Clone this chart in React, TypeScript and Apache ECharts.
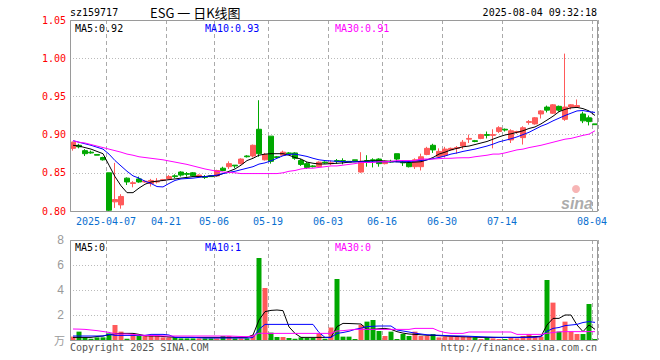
import React, { useEffect, useRef } from "react";
import * as echarts from "echarts";

const dates = [
  "2025-03-27", "2025-03-28", "2025-03-31",
  "2025-04-01", "2025-04-02", "2025-04-03", "2025-04-07", "2025-04-08", "2025-04-09", "2025-04-10", "2025-04-11",
  "2025-04-14", "2025-04-15", "2025-04-16", "2025-04-17", "2025-04-18", "2025-04-21", "2025-04-22", "2025-04-23",
  "2025-04-24", "2025-04-25", "2025-04-28", "2025-04-29", "2025-04-30",
  "2025-05-06", "2025-05-07", "2025-05-08", "2025-05-09", "2025-05-12", "2025-05-13", "2025-05-14", "2025-05-15",
  "2025-05-16", "2025-05-19", "2025-05-20", "2025-05-21", "2025-05-22", "2025-05-23", "2025-05-26", "2025-05-27",
  "2025-05-28", "2025-05-29", "2025-05-30",
  "2025-06-03", "2025-06-04", "2025-06-05", "2025-06-06", "2025-06-09", "2025-06-10", "2025-06-11", "2025-06-12",
  "2025-06-13", "2025-06-16", "2025-06-17", "2025-06-18", "2025-06-19", "2025-06-20", "2025-06-23", "2025-06-24",
  "2025-06-25", "2025-06-26", "2025-06-27", "2025-06-30",
  "2025-07-01", "2025-07-02", "2025-07-03", "2025-07-04", "2025-07-07", "2025-07-08", "2025-07-09", "2025-07-10",
  "2025-07-11", "2025-07-14", "2025-07-15", "2025-07-16", "2025-07-17", "2025-07-18", "2025-07-21", "2025-07-22",
  "2025-07-23", "2025-07-24", "2025-07-25", "2025-07-28", "2025-07-29", "2025-07-30", "2025-07-31",
  "2025-08-01", "2025-08-04",
];

const labelDates = [
  "2025-04-07", "2025-04-21", "2025-05-06", "2025-05-19", "2025-06-03",
  "2025-06-16", "2025-06-30", "2025-07-14", "2025-08-04",
];

// [open, close, low, high]
const ohlc = [
  [0.882, 0.890, 0.879, 0.891], [0.886, 0.884, 0.882, 0.888], [0.879, 0.875, 0.872, 0.881], [0.877, 0.876, 0.875, 0.879],
  [0.874, 0.873, 0.873, 0.874], [0.870, 0.867, 0.866, 0.871], [0.850, 0.801, 0.800, 0.850], [0.812, 0.815, 0.804, 0.863],
  [0.808, 0.819, 0.803, 0.822], [0.843, 0.838, 0.834, 0.844], [0.836, 0.837, 0.831, 0.839], [0.842, 0.838, 0.837, 0.845],
  [0.838, 0.839, 0.837, 0.840], [0.836, 0.840, 0.832, 0.842], [0.838, 0.839, 0.836, 0.843], [0.840, 0.841, 0.839, 0.842],
  [0.842, 0.845, 0.841, 0.847], [0.846, 0.845, 0.843, 0.848], [0.851, 0.847, 0.845, 0.852], [0.849, 0.848, 0.845, 0.851],
  [0.850, 0.846, 0.845, 0.851], [0.845, 0.847, 0.844, 0.848], [0.845, 0.844, 0.842, 0.847], [0.846, 0.845, 0.845, 0.846],
  [0.846, 0.853, 0.845, 0.854], [0.856, 0.853, 0.852, 0.858], [0.858, 0.862, 0.855, 0.865], [0.860, 0.859, 0.856, 0.860],
  [0.862, 0.868, 0.861, 0.869], [0.872, 0.871, 0.870, 0.873], [0.872, 0.886, 0.870, 0.887], [0.907, 0.875, 0.871, 0.945],
  [0.867, 0.874, 0.866, 0.876], [0.898, 0.865, 0.862, 0.898], [0.871, 0.870, 0.869, 0.872], [0.873, 0.877, 0.872, 0.879],
  [0.876, 0.875, 0.874, 0.877], [0.876, 0.869, 0.867, 0.877], [0.866, 0.861, 0.859, 0.868], [0.862, 0.857, 0.855, 0.864],
  [0.859, 0.858, 0.857, 0.860], [0.858, 0.864, 0.857, 0.865], [0.864, 0.863, 0.862, 0.865], [0.862, 0.863, 0.860, 0.866],
  [0.866, 0.865, 0.862, 0.868], [0.866, 0.865, 0.861, 0.869], [0.865, 0.864, 0.864, 0.865], [0.867, 0.866, 0.866, 0.867],
  [0.851, 0.865, 0.850, 0.877], [0.866, 0.865, 0.858, 0.873], [0.867, 0.866, 0.857, 0.869], [0.868, 0.862, 0.858, 0.869],
  [0.862, 0.865, 0.861, 0.866], [0.865, 0.864, 0.863, 0.867], [0.875, 0.868, 0.864, 0.875], [0.864, 0.863, 0.859, 0.866],
  [0.863, 0.858, 0.857, 0.864], [0.858, 0.867, 0.855, 0.869], [0.858, 0.871, 0.853, 0.875], [0.874, 0.882, 0.873, 0.884],
  [0.886, 0.880, 0.876, 0.888], [0.871, 0.878, 0.870, 0.882], [0.873, 0.881, 0.870, 0.884], [0.880, 0.882, 0.879, 0.883],
  [0.882, 0.883, 0.875, 0.885], [0.885, 0.890, 0.881, 0.893], [0.894, 0.895, 0.889, 0.900], [0.892, 0.891, 0.890, 0.893],
  [0.895, 0.900, 0.894, 0.901], [0.900, 0.899, 0.895, 0.904], [0.899, 0.900, 0.882, 0.907], [0.904, 0.909, 0.902, 0.911],
  [0.907, 0.906, 0.904, 0.908], [0.893, 0.905, 0.889, 0.907], [0.903, 0.904, 0.901, 0.905], [0.896, 0.909, 0.887, 0.911],
  [0.916, 0.917, 0.913, 0.919], [0.914, 0.922, 0.913, 0.923], [0.927, 0.931, 0.921, 0.932], [0.936, 0.932, 0.929, 0.938],
  [0.928, 0.939, 0.927, 0.940], [0.937, 0.932, 0.930, 0.938], [0.920, 0.936, 0.918, 1.006], [0.936, 0.939, 0.933, 0.940],
  [0.936, 0.938, 0.935, 0.946], [0.927, 0.918, 0.915, 0.930], [0.922, 0.917, 0.912, 0.925], [0.914, 0.913, 0.913, 0.914],
];

const ma5 = [
  0.886, 0.885, 0.883, 0.881, 0.878, 0.875, 0.860, 0.845, 0.833, 0.824,
  0.824, 0.830, 0.835, 0.838, 0.839, 0.840, 0.841, 0.842, 0.843, 0.844,
  0.845, 0.845, 0.845, 0.846, 0.846, 0.849, 0.852, 0.855, 0.860, 0.866,
  0.869, 0.873, 0.8745, 0.875, 0.875, 0.875, 0.873, 0.870, 0.868, 0.864,
  0.8625, 0.8615, 0.8615, 0.862, 0.8625, 0.863, 0.864, 0.8644, 0.865, 0.8655,
  0.8657, 0.8657, 0.8655, 0.865, 0.8644, 0.864, 0.8636, 0.864, 0.8645, 0.867,
  0.870, 0.8745, 0.877, 0.880, 0.882, 0.884, 0.885, 0.887, 0.889, 0.891,
  0.894, 0.897, 0.8995, 0.901, 0.903, 0.905, 0.908, 0.910, 0.914, 0.919,
  0.924, 0.930, 0.933, 0.935, 0.9356, 0.934, 0.931, 0.925,
];

const ma10 = [
  0.892, 0.890, 0.888, 0.886, 0.8835, 0.881, 0.8745, 0.866, 0.859, 0.852,
  0.846, 0.843, 0.839, 0.836, 0.832, 0.8315, 0.836, 0.840, 0.842, 0.8425,
  0.843, 0.844, 0.845, 0.846, 0.847, 0.849, 0.8505, 0.852, 0.854, 0.856,
  0.858, 0.8614, 0.863, 0.8657, 0.869, 0.8723, 0.874, 0.8745, 0.873, 0.8714,
  0.869, 0.867, 0.866, 0.8655, 0.865, 0.8647, 0.8644, 0.8644, 0.8644, 0.8644,
  0.8644, 0.8644, 0.8644, 0.8644, 0.8644, 0.8644, 0.8648, 0.8655, 0.866, 0.867,
  0.8685, 0.870, 0.872, 0.8745, 0.876, 0.878, 0.8795, 0.881, 0.883, 0.885,
  0.8875, 0.8905, 0.8925, 0.8945, 0.897, 0.900, 0.903, 0.907, 0.911, 0.914,
  0.918, 0.9215, 0.925, 0.928, 0.931, 0.9315, 0.930, 0.929,
];

const ma30 = [
  0.892, 0.890, 0.889, 0.887, 0.885, 0.883, 0.881, 0.879, 0.877, 0.8745,
  0.873, 0.871, 0.870, 0.869, 0.868, 0.867, 0.8655, 0.864, 0.8625, 0.861,
  0.859, 0.857, 0.855, 0.8535, 0.852, 0.851, 0.8505, 0.850, 0.849, 0.849,
  0.849, 0.849, 0.849, 0.849, 0.849, 0.850, 0.852, 0.853, 0.855, 0.856,
  0.856, 0.857, 0.858, 0.859, 0.859, 0.860, 0.861, 0.862, 0.8635, 0.8635,
  0.8635, 0.8645, 0.8645, 0.865, 0.866, 0.866, 0.866, 0.866, 0.868, 0.868,
  0.868, 0.8685, 0.869, 0.869, 0.8695, 0.8697, 0.8697, 0.871, 0.872, 0.873,
  0.8745, 0.8745, 0.876, 0.878, 0.880, 0.881, 0.883, 0.8845, 0.886, 0.888,
  0.890, 0.892, 0.894, 0.895, 0.897, 0.899, 0.9006, 0.905,
];

const volume = [
  0.27, 0.67, 0.21, 0.10, 0.21, 0.21, 0.53, 1.20, 0.67, 0.10,
  0.45, 0.32, 0.32, 0.32, 0.32, 0.21, 0.21, 0.21, 0.13, 0.13,
  0.13, 0.13, 0.13, 0.13, 0.13, 0.32, 0.32, 0.13, 0.13, 0.13,
  0.40, 6.56, 4.16, 0.59, 0.24, 0.24, 0.16, 0.10, 0.21, 0.16,
  0.16, 0.53, 0.10, 1.00, 4.88, 0.27, 0.27, 0.08, 1.20, 1.47,
  1.60, 0.72, 0.32, 0.67, 0.08, 0.48, 0.32, 0.67, 0.32, 0.32,
  0.48, 0.21, 0.27, 0.27, 0.27, 0.27, 0.27, 0.21, 0.08, 0.21,
  0.13, 0.08, 0.08, 0.21, 0.13, 0.32, 0.48, 0.27, 0.27, 4.80,
  2.99, 0.67, 1.47, 0.67, 0.48, 0.48, 2.88, 0.08,
];

const vma5 = [
  0.21, 0.21, 0.21, 0.21, 0.28, 0.32, 0.42, 0.50, 0.53, 0.53,
  0.53, 0.45, 0.34, 0.32, 0.32, 0.28, 0.25, 0.22, 0.21, 0.21,
  0.21, 0.21, 0.21, 0.21, 0.21, 0.21, 0.21, 0.21, 0.21, 0.21,
  0.40, 1.60, 2.27, 2.37, 2.40, 2.35, 1.05, 0.53, 0.21, 0.21,
  0.21, 0.21, 0.21, 0.21, 1.07, 1.33, 1.32, 1.30, 1.28, 0.85,
  0.85, 0.90, 0.93, 0.85, 0.67, 0.55, 0.48, 0.45, 0.42, 0.38,
  0.37, 0.35, 0.32, 0.30, 0.28, 0.26, 0.25, 0.23, 0.21, 0.21,
  0.21, 0.21, 0.21, 0.21, 0.21, 0.22, 0.25, 0.27, 0.30, 1.20,
  1.73, 1.73, 2.00, 2.00, 1.20, 0.67, 1.20, 0.85,
];

const vma10 = [
  0.32, 0.32, 0.32, 0.32, 0.32, 0.32, 0.45, 0.37, 0.37, 0.37,
  0.37, 0.37, 0.37, 0.45, 0.45, 0.45, 0.40, 0.21, 0.21, 0.21,
  0.21, 0.18, 0.16, 0.16, 0.16, 0.16, 0.16, 0.16, 0.16, 0.16,
  0.20, 0.85, 1.25, 1.25, 1.25, 1.25, 1.25, 1.25, 1.25, 1.25,
  1.25, 0.60, 0.21, 0.21, 0.53, 0.60, 0.70, 0.85, 0.95, 1.07,
  1.10, 1.12, 1.12, 1.12, 0.80, 0.72, 0.64, 0.55, 0.48, 0.42,
  0.40, 0.38, 0.36, 0.34, 0.33, 0.32, 0.30, 0.28, 0.26, 0.24,
  0.22, 0.21, 0.21, 0.21, 0.21, 0.21, 0.21, 0.22, 0.27, 0.70,
  0.93, 1.00, 1.15, 1.20, 1.25, 1.40, 1.47, 1.41,
];

const vma30 = [
  0.88, 0.87, 0.85, 0.80, 0.75, 0.68, 0.61, 0.50, 0.48, 0.48,
  0.45, 0.40, 0.37, 0.37, 0.35, 0.33, 0.32, 0.32, 0.32, 0.32,
  0.32, 0.32, 0.32, 0.32, 0.32, 0.32, 0.32, 0.30, 0.28, 0.27,
  0.32, 0.55, 0.53, 0.53, 0.53, 0.53, 0.53, 0.53, 0.53, 0.53,
  0.53, 0.53, 0.53, 0.53, 0.72, 0.75, 0.80, 0.85, 0.85, 0.85,
  0.85, 0.85, 0.85, 0.85, 0.85, 0.85, 0.85, 0.93, 0.93, 0.93,
  0.93, 0.72, 0.60, 0.53, 0.53, 0.53, 0.64, 0.64, 0.64, 0.64,
  0.64, 0.64, 0.64, 0.64, 0.45, 0.45, 0.45, 0.45, 0.45, 0.53,
  0.60, 0.65, 0.67, 0.67, 0.67, 0.67, 0.67, 0.67,
];

const UP = "#ff5a5a";
const DOWN = "#00a800";
const MONO = '"DejaVu Sans Mono", "Liberation Mono", monospace';

const G1 = { left: 70, top: 20, width: 528, height: 191 };
const G2 = { left: 70, top: 240, width: 528, height: 100 };

export default function App() {
  const ref = useRef<HTMLDivElement>(null);

  useEffect(() => {
    if (!ref.current) return;
    const chart = echarts.init(ref.current, null, { renderer: "svg" });
    const labelSet = new Set(labelDates);
    const showAt = (_i: number, v: string) => labelSet.has(v);

    const xBase = (gridIndex: number, showLabels: boolean) => ({
      type: "category",
      gridIndex,
      data: dates,
      boundaryGap: true,
      axisLine: { show: false },
      axisTick: { show: false },
      axisLabel: {
        show: showLabels,
        interval: showAt,
        formatter: (v: string) => (v === labelDates[0] ? v : v.slice(5)),
        color: "#0a6fd0",
        fontFamily: MONO,
        fontSize: 10,
        margin: 5,
        padding: [0, 6, 0, 0],
      },
      splitLine: {
        show: true,
        interval: showAt,
        lineStyle: { color: "#aaaaaa", type: [4, 3], width: 1 },
      },
    });

    const line = (name: string, data: number[], color: string, axis: number) => ({
      name,
      type: "line",
      xAxisIndex: axis,
      yAxisIndex: axis,
      data,
      showSymbol: false,
      symbol: "none",
      lineStyle: { color, width: 1 },
      itemStyle: { color },
      silent: true,
      z: 3,
    });

    const txt = (text: string, x: number, y: number, fill: string, extra: any = {}) => ({
      type: "text",
      x,
      y,
      z: 100,
      silent: true,
      style: {
        text,
        fill,
        font: `10px ${MONO}`,
        textAlign: extra.align || "left",
        align: extra.align || "left",
        textVerticalAlign: "middle",
        verticalAlign: "middle",
        ...(extra.font ? { font: extra.font } : {}),
      },
    });

    const border = (g: any) => ({
      type: "rect",
      z: 90,
      silent: true,
      shape: { x: g.left + 0.5, y: g.top + 0.5, width: g.width - 1, height: g.height },
      style: { fill: "none", stroke: "#9a9a9a", lineWidth: 1 },
    });

    const option: any = {
      animation: false,
      backgroundColor: "#ffffff",
      grid: [
        { ...G1, containLabel: false },
        { ...G2, containLabel: false },
      ],
      xAxis: [xBase(0, true), xBase(1, false)],
      yAxis: [
        {
          type: "value",
          gridIndex: 0,
          min: 0.8,
          max: 1.05,
          interval: 0.05,
          axisLine: { show: false },
          axisTick: { show: false },
          axisLabel: {
            formatter: (v: number) => v.toFixed(2),
            color: "#ff0000",
            fontFamily: MONO,
            fontSize: 10,
            margin: 4,
          },
          splitLine: { lineStyle: { color: "#bbbbbb", type: [1, 2] } },
        },
        {
          type: "value",
          gridIndex: 1,
          min: 0,
          max: 8,
          interval: 2,
          axisLine: { show: false },
          axisTick: { show: false },
          axisLabel: {
            formatter: (v: number) => (v === 0 ? "" : String(v)),
            color: "#9a9a9a",
            fontFamily: '"Liberation Sans", Arial, sans-serif',
            fontSize: 12,
            margin: 6,
          },
          splitLine: { lineStyle: { color: "#bbbbbb", type: [1, 2] } },
        },
      ],
      series: [
        {
          name: "K",
          type: "candlestick",
          xAxisIndex: 0,
          yAxisIndex: 0,
          data: ohlc.map((d) => [d[0], d[1], d[2], d[3]]),
          barWidth: 5,
          silent: true,
          z: 2,
          itemStyle: { color: UP, color0: DOWN, borderColor: UP, borderColor0: DOWN, borderWidth: 1 },
        },
        line("MA5", ma5, "#000000", 0),
        line("MA10", ma10, "#0000ff", 0),
        line("MA30", ma30, "#ff00ff", 0),
        {
          name: "VOL",
          type: "bar",
          xAxisIndex: 1,
          yAxisIndex: 1,
          barWidth: 5,
          silent: true,
          z: 2,
          data: volume.map((v, i) => ({
            value: v,
            itemStyle: { color: ohlc[i][1] >= ohlc[i][0] ? UP : DOWN },
          })),
        },
        line("VMA5", vma5, "#000000", 1),
        line("VMA10", vma10, "#0000ff", 1),
        line("VMA30", vma30, "#ff00ff", 1),
      ],
      graphic: [
        border(G1),
        border(G2),
        txt("sz159717", 70, 12, "#000000"),
        txt("ESG 一 日K线图", 150, 12, "#000000", { font: '13px "Noto Sans CJK SC", serif' }),
        txt("2025-08-04 09:32:18", 597, 12, "#000000", { align: "right" }),
        txt("MA5:0.92", 75, 28, "#000000"),
        txt("MA10:0.93", 205, 28, "#0000ff"),
        txt("MA30:0.91", 335, 28, "#ff00ff"),
        txt("MA5:0", 75, 247, "#000000"),
        txt("MA10:1", 205, 247, "#0000ff"),
        txt("MA30:0", 335, 247, "#ff00ff"),
        txt("万", 65, 340, "#9a9a9a", { align: "right", font: '11px "Noto Sans CJK SC", sans-serif' }),
        txt("Copyright 2025 SINA.COM", 70, 347, "#555555"),
        txt("http://finance.sina.com.cn", 597, 347, "#555555", { align: "right" }),
        {
          type: "circle",
          z: 95,
          silent: true,
          shape: { cx: 576, cy: 189, r: 4 },
          style: { fill: "rgba(240,120,120,0.55)", stroke: "none" },
        },
        txt("sina", 577, 203, "rgba(150,150,150,0.8)", {
          align: "center",
          font: 'italic bold 16px "Liberation Sans", Arial, sans-serif',
        }),
      ],
    };

    chart.setOption(option);
    return () => chart.dispose();
  }, []);

  return (
    <div
      ref={ref}
      style={{ position: "absolute", left: 0, top: 0, width: 660, height: 360, background: "#fff" }}
    />
  );
}
